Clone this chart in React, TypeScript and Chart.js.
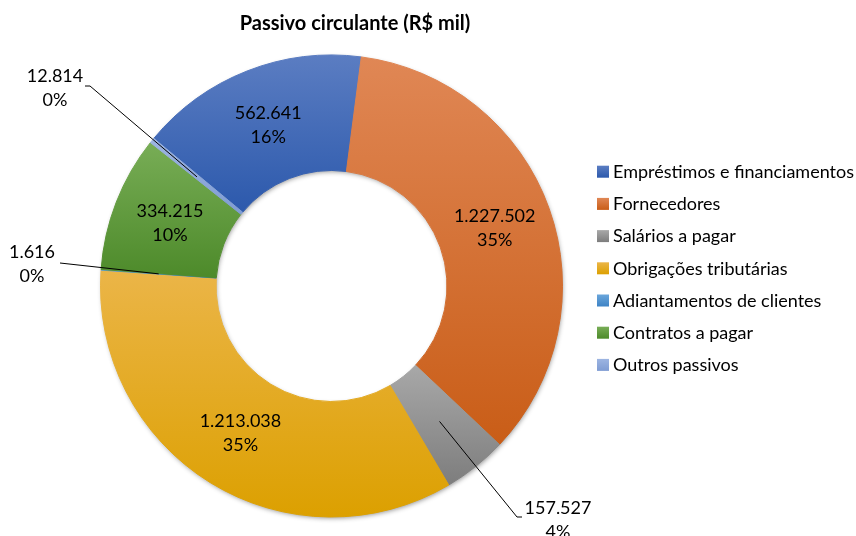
import React, { useEffect, useRef } from "react";
import { Chart, registerables } from "chart.js";

Chart.register(...registerables);

const titleText = "Passivo circulante (R$ mil)";
const categories = [
  "Empréstimos e financiamentos",
  "Fornecedores",
  "Salários a pagar",
  "Obrigações tributárias",
  "Adiantamentos de clientes",
  "Contratos a pagar",
  "Outros passivos",
];
const values = [562641, 1227502, 157527, 1213038, 1616, 334215, 12814];
const lightColors = ["#5B7DC2", "#E08755", "#A8A8A8", "#EBB548", "#6AA6DB", "#78AD56", "#9DB5E2"];
const darkColors = ["#2C59AC", "#C95D17", "#7D7D7D", "#DCA000", "#3E83C5", "#4D8A2A", "#7F9CD3"];
const legendColors = ["#3A63B5", "#D56A2C", "#979797", "#E8AC20", "#4F91CF", "#5E9A3C", "#8EA9DB"];

const FONT = "Lato, 'DejaVu Sans', sans-serif";
const ROTATION = -50.3;
const CUTOUT = 0.5;

const total = values.reduce((a, b) => a + b, 0);

function fmtThousands(v: number): string {
  const s = String(Math.round(v));
  return s.replace(/\B(?=(\d{3})+(?!\d))/g, ".");
}
function fmtPct(v: number): string {
  return Math.round((v / total) * 100) + "%";
}

function sliceDeg(i: number): [number, number] {
  let acc = 0;
  for (let j = 0; j < i; j++) acc += values[j];
  const s = ROTATION + (acc / total) * 360;
  const e = s + (values[i] / total) * 360;
  return [s, e];
}

function gradientFor(ctx: any) {
  const chart = ctx.chart;
  const i = ctx.dataIndex;
  const ca = chart.chartArea;
  if (!ca || i === undefined) return legendColors[i ?? 0];
  const cx = (ca.left + ca.right) / 2;
  const cy = (ca.top + ca.bottom) / 2;
  const R = Math.min(ca.width, ca.height) / 2;
  const r = R * CUTOUT;
  const [s, e] = sliceDeg(i);
  let minY = Infinity;
  let maxY = -Infinity;
  for (let k = 0; k <= 60; k++) {
    const a = ((s + ((e - s) * k) / 60) * Math.PI) / 180;
    for (const rad of [R, r]) {
      const y = cy - rad * Math.cos(a);
      if (y < minY) minY = y;
      if (y > maxY) maxY = y;
    }
  }
  if (maxY - minY < 1) maxY = minY + 1;
  const g = chart.ctx.createLinearGradient(0, minY, 0, maxY);
  g.addColorStop(0, lightColors[i]);
  g.addColorStop(1, darkColors[i]);
  return g;
}

// outside label layout (canvas px) for the tiny slices
const outsideLayout: Record<number, { tx: number; ty: number; ex: number; ey: number; sx: number }> = {
  2: { tx: 558, ty: 508, ex: 517, ey: 517, sx: 522 },
  4: { tx: 32, ty: 252, ex: 60, ey: 263, sx: 60 },
  6: { tx: 55, ty: 76, ex: 90, ey: 86, sx: 85 },
};

const shadowPlugin = {
  id: "ringShadow",
  beforeDatasetsDraw(chart: any) {
    const meta = chart.getDatasetMeta(0);
    const arc = meta.data[0];
    if (!arc) return;
    const { x, y, outerRadius, innerRadius } = arc.getProps(["x", "y", "outerRadius", "innerRadius"], true);
    const ctx = chart.ctx;
    ctx.save();
    ctx.shadowColor = "rgba(0,0,0,0.45)";
    ctx.shadowBlur = 5;
    ctx.shadowOffsetX = 1;
    ctx.shadowOffsetY = 2;
    ctx.beginPath();
    ctx.arc(x, y, outerRadius - 1, 0, Math.PI * 2);
    ctx.arc(x, y, innerRadius + 1, 0, Math.PI * 2, true);
    ctx.fillStyle = "#c8a060";
    ctx.fill("evenodd");
    ctx.restore();
  },
};

const labelsPlugin = {
  id: "sliceLabels",
  afterDatasetsDraw(chart: any) {
    const ctx = chart.ctx;
    const meta = chart.getDatasetMeta(0);
    ctx.save();
    ctx.font = `18px ${FONT}`;
    ctx.fillStyle = "#000";
    ctx.textAlign = "center";
    ctx.textBaseline = "middle";
    meta.data.forEach((arc: any, i: number) => {
      const p = arc.getProps(["x", "y", "startAngle", "endAngle", "innerRadius", "outerRadius"], true);
      const mid = (p.startAngle + p.endAngle) / 2;
      const rm = (p.innerRadius + p.outerRadius) / 2;
      const mx = p.x + rm * Math.cos(mid);
      const my = p.y + rm * Math.sin(mid);
      const l1 = fmtThousands(values[i]);
      const l2 = fmtPct(values[i]);
      const lay = outsideLayout[i];
      if (lay) {
        ctx.strokeStyle = "#000";
        ctx.lineWidth = 1;
        ctx.beginPath();
        ctx.moveTo(mx, my);
        ctx.lineTo(lay.ex, lay.ey);
        ctx.lineTo(lay.sx, lay.ey);
        ctx.stroke();
        ctx.fillText(l1, lay.tx, lay.ty);
        ctx.fillText(l2, lay.tx, lay.ty + 24);
      } else {
        ctx.fillText(l1, mx, my - 12);
        ctx.fillText(l2, mx, my + 12);
      }
    });
    ctx.restore();
  },
};

const titleLegendPlugin = {
  id: "titleLegend",
  afterDraw(chart: any) {
    const ctx = chart.ctx;
    ctx.save();
    ctx.fillStyle = "#000";
    ctx.font = `bold 20px ${FONT}`;
    ctx.textAlign = "center";
    ctx.textBaseline = "alphabetic";
    ctx.fillText(titleText, 355, 30);

    ctx.font = `18px ${FONT}`;
    ctx.textAlign = "left";
    ctx.textBaseline = "middle";
    categories.forEach((c, i) => {
      const yc = 171.7 + i * 32.2;
      const g = ctx.createLinearGradient(0, yc - 6, 0, yc + 6);
      g.addColorStop(0, lightColors[i]);
      g.addColorStop(1, darkColors[i]);
      ctx.fillStyle = g;
      ctx.fillRect(597, yc - 6, 12, 12);
      ctx.fillStyle = "#000";
      ctx.fillText(c, 613, yc + 0.5);
    });
    ctx.restore();
  },
};

export default function App() {
  const ref = useRef<HTMLCanvasElement | null>(null);
  useEffect(() => {
    document.body.style.margin = "0";
    const canvas = ref.current;
    if (!canvas) return;
    const chart = new Chart(canvas, {
      type: "doughnut",
      data: {
        labels: categories,
        datasets: [
          {
            data: values,
            backgroundColor: gradientFor as any,
            borderColor: gradientFor as any,
            borderWidth: 1,
            hoverOffset: 0,
          },
        ],
      },
      options: {
        animation: false,
        responsive: false,
        devicePixelRatio: 1,
        rotation: ROTATION,
        cutout: "50%",
        layout: { padding: { left: 100, right: 293, top: 54, bottom: 18 } },
        plugins: {
          legend: { display: false },
          title: { display: false },
          tooltip: { enabled: false },
        },
        events: [],
      },
      plugins: [shadowPlugin, labelsPlugin, titleLegendPlugin],
    });
    return () => chart.destroy();
  }, []);
  return (
    <div style={{ position: "fixed", left: 0, top: 0, width: 856, height: 536, background: "#fff" }}>
      <canvas ref={ref} width={856} height={536} style={{ width: 856, height: 536 }} />
    </div>
  );
}
